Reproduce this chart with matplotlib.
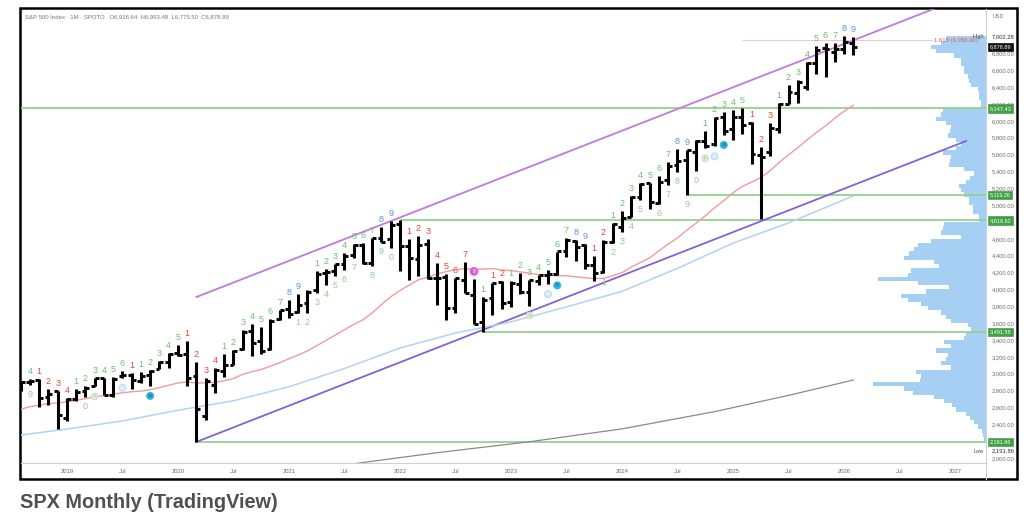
import numpy as np
import matplotlib
matplotlib.use("Agg")
import matplotlib.pyplot as plt
from matplotlib.patches import Rectangle
from matplotlib.lines import Line2D

# ---- data -------------------------------------------------------------
# monthly bars, Aug 2018 .. Feb 2026 (month index 0 = Jan 2019)
first_month = -5
opens = [2821, 2897, 2926, 2718, 2791,
         2477, 2703, 2798, 2849, 2952, 2751, 2971, 2980, 2910, 2983, 3051, 3144,
         3244, 3236, 2974, 2499, 2869, 3038, 3106, 3289, 3508, 3385, 3296, 3645,
         3764, 3732, 3842, 3993, 4191, 4216, 4300, 4406, 4529, 4317, 4610, 4602,
         4778, 4519, 4364, 4540, 4131, 4150, 3782, 4113, 3936, 3610, 3902, 4087,
         3853, 4070, 3964, 4102, 4166, 4180, 4450, 4579, 4530, 4284, 4202, 4560,
         4743, 4862, 5098, 5258, 5029, 5298, 5471, 5538, 5624, 5758, 5724, 6040,
         5904, 6041, 5969, 5597, 5625, 5897, 6198, 6332, 6401, 6686, 6860, 6813,
         6850, 6917]
highs = [2917, 2941, 2940, 2815, 2800,
         2709, 2813, 2860, 2950, 2954, 2964, 3028, 3014, 3022, 3050, 3154, 3248,
         3338, 3394, 3137, 2955, 3069, 3233, 3280, 3515, 3588, 3550, 3646, 3760,
         3871, 3950, 3994, 4219, 4238, 4302, 4430, 4537, 4546, 4608, 4744, 4809,
         4819, 4595, 4637, 4593, 4308, 4178, 4140, 4325, 4119, 3905, 4080, 4101,
         4094, 4195, 4111, 4170, 4231, 4448, 4607, 4585, 4541, 4394, 4588, 4793,
         4931, 5111, 5265, 5264, 5342, 5506, 5670, 5652, 5767, 5878, 6044, 6100,
         6128, 6147, 5986, 5695, 5969, 6215, 6427, 6481, 6700, 6891, 6920, 6925,
         7002, 6993]
lows = [2796, 2864, 2604, 2631, 2347,
        2444, 2682, 2722, 2849, 2751, 2729, 2952, 2822, 2892, 2856, 3051, 3070,
        3215, 2856, 2192, 2447, 2767, 2966, 3101, 3285, 3209, 3234, 3280, 3633,
        3663, 3726, 3723, 3955, 4057, 4164, 4233, 4368, 4306, 4279, 4560, 4495,
        4223, 4115, 4158, 4124, 3810, 3637, 3722, 3955, 3584, 3492, 3698, 3764,
        3794, 3943, 3809, 4048, 4063, 4166, 4385, 4335, 4239, 4104, 4198, 4547,
        4682, 4854, 5057, 4954, 5011, 5234, 5391, 5119, 5403, 5674, 5697, 5832,
        5773, 5838, 5489, 4835, 5579, 5861, 6202, 6213, 6361, 6551, 6522, 6700,
        6790, 6776]
closes = [2902, 2914, 2712, 2760, 2507,
          2704, 2784, 2834, 2946, 2752, 2942, 2980, 2926, 2977, 3038, 3141, 3231,
          3226, 2954, 2585, 2912, 3044, 3100, 3271, 3500, 3363, 3270, 3622, 3756,
          3714, 3811, 3973, 4181, 4204, 4298, 4395, 4523, 4308, 4605, 4567, 4766,
          4516, 4374, 4530, 4132, 4132, 3785, 4130, 3955, 3586, 3872, 4080, 3840,
          4077, 3970, 4109, 4169, 4180, 4450, 4589, 4508, 4288, 4194, 4568, 4770,
          4846, 5096, 5254, 5036, 5278, 5460, 5522, 5648, 5762, 5705, 6032, 5882,
          6041, 5955, 5612, 5569, 5912, 6205, 6339, 6460, 6688, 6840, 6849, 6846,
          6939, 6879]

# 20-month average (pink), one value per bar
ma20 = [2578, 2609, 2627, 2647, 2653,
        2667, 2685, 2704, 2727, 2739, 2757, 2774, 2786, 2794, 2810, 2835, 2864,
        2890, 2902, 2891, 2891, 2898, 2917, 2943, 2992, 3025, 3050, 3089, 3130,
        3178, 3221, 3271, 3333, 3395, 3458, 3521, 3585, 3639, 3722, 3821, 3914,
        3987, 4051, 4114, 4145, 4184, 4210, 4235, 4245, 4239, 4242, 4247, 4230,
        4224, 4207, 4193, 4175, 4169, 4161, 4162, 4149, 4138, 4129, 4131, 4163,
        4198, 4264, 4320, 4374, 4459, 4538, 4610, 4701, 4785, 4872, 4968, 5053,
        5146, 5222, 5273, 5326, 5407, 5508, 5596, 5681, 5773, 5860, 5940, 6030,
        6113, 6184]

# 50-month average (blue) and long average (grey), read at a few months
ma50_month = [-5, 0, 6, 12, 18, 24, 30, 36, 42, 48, 54, 60, 66, 72, 78, 85]
ma50_value = [2272, 2344, 2440, 2567, 2679, 2845, 3062, 3305, 3483, 3614,
              3793, 3977, 4250, 4549, 4788, 5109]
ma200_month = [28, 40, 50, 60, 70, 78, 85]
ma200_value = [1889, 2063, 2193, 2346, 2550, 2743, 2925]

# horizontal levels
level_price = [6147.43, 5119.26, 4818.62, 3491.58, 2191.86]
level_text = ["6,147.43", "5,119.26", "4,818.62", "3,491.58", "2,191.86"]
level_start = [-5, 67, 36, 45, 14]

# channel lines (month, price)
lower_month = [14, 97.2]
lower_price = [2191.86, 5760]
upper_month = [14, 99.4]
upper_price = [3910, 7572]

# 1.618 extension
fib_price = 6956.3
fib_month = [73, 93.6]

# TD counts above the bars
td_up_month = [-4, -3, -2, -1, 0, 1, 2, 3, 4, 5, 6, 7, 8, 9, 10, 11, 12, 13, 14, 15,
               16, 17, 18, 19, 20, 21, 22, 23, 24, 25, 27, 28, 29, 30, 31, 32, 33,
               34, 35, 37, 38, 39, 40, 41, 42, 43, 45, 46, 47, 48, 49, 50, 51, 52,
               53, 54, 55, 56, 57, 58, 59, 60, 61, 62, 63, 64, 65, 66, 67, 69, 70,
               71, 72, 73, 74, 75, 76, 77, 78, 79, 80, 81, 82, 83, 84, 85]
td_up_text = ["4", "1", "2", "3", "4", "1", "2", "3", "4", "5", "6", "1", "1", "2", "3",
              "4", "5", "1", "2", "3", "4", "1", "2", "3", "4", "5", "6", "7", "8", "9",
              "1", "2", "3", "4", "5", "6", "7", "8", "9", "1", "2", "3", "4", "5",
              "6", "7", "1", "1", "2", "1", "2", "3", "4", "5", "6", "7", "8", "9",
              "1", "2", "1", "2", "3", "4", "5", "6", "7", "8", "9", "1", "2", "3",
              "4", "5", "1", "2", "3", "1", "2", "3", "4", "5", "6", "7", "8", "9"]
td_up_color = list("grrrrggggggrgggggrrrrgggggggbb"
                   "gggggggbbrrrrrrrgrrgggggggbbrrgggggggbbgggggrrrgggggggbb")

# TD counts below the bars
td_dn_month = [-4, 2, 25, 26, 27, 28, 29, 30, 31, 33, 34, 35,
               58, 59, 60, 61, 62, 64, 65, 66, 67, 68]
td_dn_text = ["9", "0", "1", "2", "3", "4", "5", "6", "7", "8", "9", "0",
              "1", "2", "3", "4", "5", "6", "7", "8", "9", "0"]

# countdown markers
td_mark_month = [3, 6, 9, 50, 52, 53, 69, 70, 71]
td_mark_text = ["11", "12", "13", "11", "12", "13", "11", "12", "13"]
setup_mark_month = 44

# volume profile, 50-point bins from 2,200
vp_base = 2200
vp_step = 50
vp_volume = [2, 3, 4, 8, 12, 16, 20, 30, 34, 42, 52, 73, 82, 113, 66, 65, 70, 35,
             45, 40, 38, 50, 35, 42, 22, 20, 15, 18, 35, 40, 45, 58, 65, 78, 85, 60,
             37, 68, 108, 78, 75, 47, 52, 82, 77, 72, 68, 55, 25, 45, 43, 42, 7, 7,
             13, 13, 17, 17, 22, 25, 27, 20, 16, 12, 22, 37, 36, 35, 43, 30, 25, 30,
             38, 36, 35, 40, 50, 45, 43, 5, 5, 7, 7, 8, 15, 17, 18, 22, 22, 25, 25,
             32, 50, 55, 45, 40]

price_ticks = [2000, 2400, 2600, 2800, 3000, 3200, 3400, 3600, 3800, 4000, 4200,
               4400, 4600, 5000, 5200, 5400, 5600, 5800, 6000, 6200, 6400, 6600, 6800]
time_tick_month = [0, 6, 12, 18, 24, 30, 36, 42, 48, 54, 60, 66, 72, 78, 84, 90, 96]
time_tick_text = ["2019", "Jul", "2020", "Jul", "2021", "Jul", "2022", "Jul", "2023",
                  "Jul", "2024", "Jul", "2025", "Jul", "2026", "Jul", "2027"]

last_close = 6878.89
all_high = 7002.28
all_low = 2191.86

# ---- figure -----------------------------------------------------------
W, H = 1028, 520
fig = plt.figure(figsize=(W / 100, H / 100), dpi=100)
plt.rcParams["font.family"] = ["Liberation Sans", "DejaVu Sans"]

left, right, top, bottom = 21, 986, 9, 463
rect = [left / W, 1 - bottom / H, (right - left) / W, (bottom - top) / H]
xlim = (-4.97, 99.35)
ylim = (1941, 7326)

# volume profile sits behind the price axes
ax_vp = fig.add_axes(rect, zorder=0)
vp_levels = vp_base + vp_step * np.arange(len(vp_volume))
ax_vp.barh(vp_levels, vp_volume, height=vp_step, align="edge",
           color="#a6d0f3", linewidth=0)
ax_vp.set_xlim(right - left, 0)
ax_vp.set_ylim(*ylim)
ax_vp.axis("off")

ax = fig.add_axes(rect, zorder=1)
ax.patch.set_visible(False)
ax.set_xlim(*xlim)
ax.set_ylim(*ylim)

months = first_month + np.arange(len(closes))
high_of = dict(zip(months, highs))
low_of = dict(zip(months, lows))

# trend / level lines
for p, m0 in zip(level_price, level_start):
    ax.hlines(p, m0, xlim[1], color="#93d190", lw=1.3, zorder=2)
ax.plot(lower_month, lower_price, color="#8262d4", lw=1.3, zorder=2)
ax.plot(upper_month, upper_price, color="#c07ad9", lw=1.3, zorder=2)
ax.hlines(fib_price, fib_month[0], fib_month[1], color="#f3c4c4", lw=0.7, zorder=2)

# moving averages
ax.plot(months, ma20, color="#f09c9c", lw=1.0, zorder=2)
ax.plot(ma50_month, ma50_value, color="#b3d2f2", lw=1.1, zorder=2)
ax.plot(ma200_month, ma200_value, color="#8a8a8a", lw=0.9, zorder=2)

# OHLC bars
tick = 0.42
ax.vlines(months, lows, highs, color="black", lw=2.2, zorder=4)
ax.hlines(opens, months - tick, months, color="black", lw=2.1, zorder=4)
ax.hlines(closes, months, months + tick, color="black", lw=2.1, zorder=4)

# TD counts
td_colors = {"g": "#6cc070", "r": "#e8453c", "b": "#5f90e8"}
for m, t, c in zip(td_up_month, td_up_text, td_up_color):
    ax.annotate(t, (m, high_of[m]), xytext=(0, 3), textcoords="offset pixels",
                ha="center", va="bottom", fontsize=6.5, color=td_colors[c], zorder=5)
for m, t in zip(td_dn_month, td_dn_text):
    ax.annotate(t, (m, low_of[m]), xytext=(0, -5), textcoords="offset pixels",
                ha="center", va="top", fontsize=6.5, color="#8fcf8c", zorder=5)

mark_style = {"11": ("#dfe9d6", "#c8dcbc", "#b5c9aa"),
              "12": ("#cfe9f7", "#b5dcf2", "#ffffff"),
              "13": ("#2cb2da", "#2cb2da", "#0d5f7a")}
for m, t in zip(td_mark_month, td_mark_text):
    fc, ec, tc = mark_style[t]
    ax.annotate(t, (m, low_of[m]), xytext=(0, -10), textcoords="offset pixels",
                ha="center", va="center", fontsize=3.2, color=tc, zorder=5,
                bbox=dict(boxstyle="circle,pad=0.25", fc=fc, ec=ec, lw=0.6))
ax.annotate("8", (setup_mark_month, high_of[setup_mark_month]), xytext=(0, 8),
            textcoords="offset pixels", ha="center", va="center", fontsize=3.6,
            color="white", zorder=5,
            bbox=dict(boxstyle="circle,pad=0.3", fc="#e05ae0", ec="#e05ae0", lw=0.5))

# price axis on the right
ax.yaxis.tick_right()
ax.set_yticks(price_ticks)
ax.set_yticklabels([f"{v:,.2f}" for v in price_ticks])
ax.tick_params(axis="y", length=0, pad=4, labelsize=4.2, labelcolor="#6b6b6b")
ax.set_xticks(time_tick_month)
ax.set_xticklabels(time_tick_text)
ax.tick_params(axis="x", length=0, pad=4, labelsize=4.2, labelcolor="#6b6b6b")
for s in ["top", "left"]:
    ax.spines[s].set_visible(False)
for s in ["bottom", "right"]:
    ax.spines[s].set_color("#d0d0d0")
    ax.spines[s].set_linewidth(0.8)

ytr = ax.get_yaxis_transform()
for p, t in zip(level_price, level_text):
    ax.text(1.004, p, t, transform=ytr, ha="left", va="center", fontsize=4.0,
            color="white", zorder=10, clip_on=False,
            bbox=dict(boxstyle="square,pad=0.3", fc="#43a047", ec="#43a047", lw=0.5))
ax.text(1.004, last_close, f"{last_close:,.2f}", transform=ytr, ha="left",
        va="center", fontsize=4.0, color="white", zorder=10, clip_on=False,
        bbox=dict(boxstyle="square,pad=0.3", fc="#111111", ec="#111111", lw=0.5))
ax.text(1.006, all_high, f"{all_high:,.2f}", transform=ytr, ha="left",
        va="center", fontsize=4.2, color="#333333", zorder=10, clip_on=False)
ax.text(0.998, all_high, "High", transform=ytr, ha="right", va="center",
        fontsize=4.0, color="#444444", zorder=10)
ax.text(1.006, all_low - 110, f"{all_low:,.2f}", transform=ytr, ha="left",
        va="center", fontsize=4.2, color="#333333", zorder=10, clip_on=False)
ax.text(0.998, all_low - 110, "Low", transform=ytr, ha="right", va="center",
        fontsize=4.0, color="#444444", zorder=10)
ax.text(fib_month[1] + 0.1, fib_price, f"1.618 ({fib_price:,.2f})", ha="left",
        va="center", fontsize=4.3, color="#e25b5b", zorder=10, clip_on=False)

# frame, separators and captions
fig.add_artist(Rectangle((19.5 / W, 1 - 479 / H), (1017 - 19.5) / W, (479 - 8) / H,
                         transform=fig.transFigure, fill=False, ec="black", lw=1.8))
fig.add_artist(Line2D([right / W, right / W], [1 - 479 / H, 1 - bottom / H],
                      transform=fig.transFigure, color="#d0d0d0", lw=0.8))
fig.text(998 / W, 1 - 17 / H, "USD", fontsize=4.0, color="#777777",
         ha="center", va="center")
fig.text(25 / W, 1 - 17 / H,
         "S&P 500 Index · 1M · SPOTO   O6,916.64  H6,993.48  L6,775.50  C6,878.89",
         fontsize=4.3, color="#777777", ha="left", va="center")
fig.text(20 / W, 1 - 502 / H, "SPX Monthly (TradingView)", fontsize=14.3,
         fontweight="bold", color="#505050", ha="left", va="center")

fig.savefig("out.png", dpi=100)
